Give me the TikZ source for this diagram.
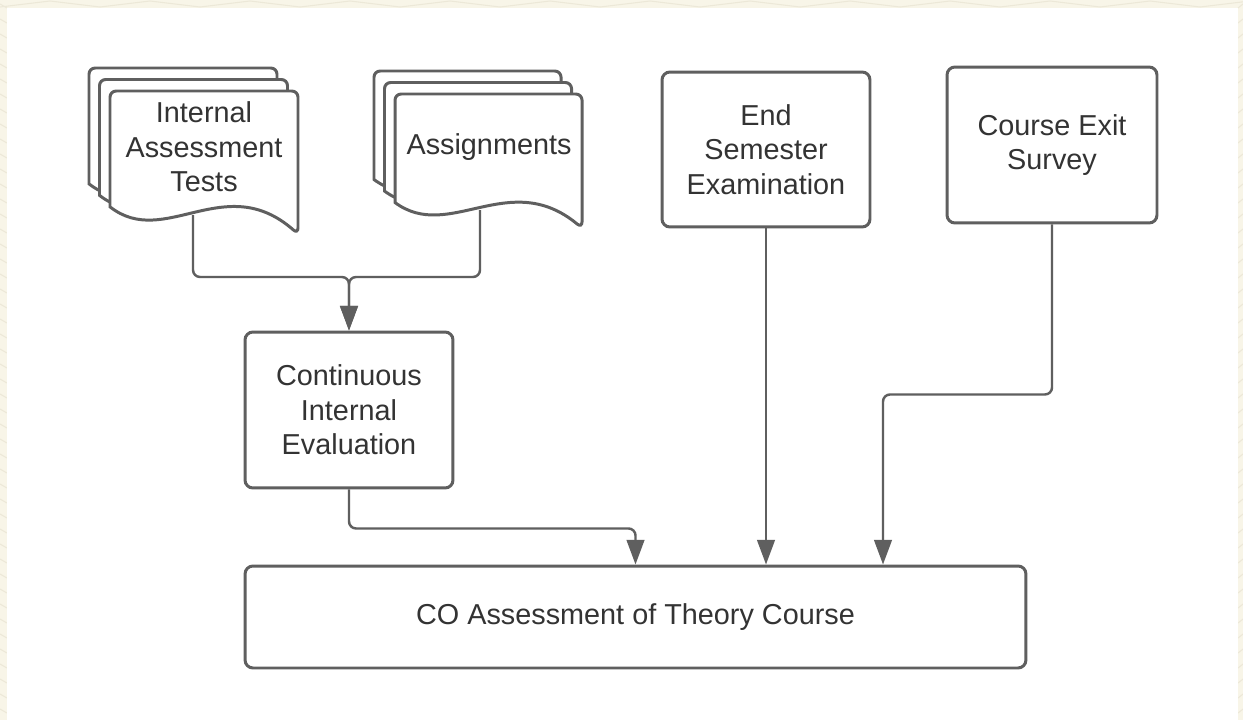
\documentclass[tikz,border=0pt]{standalone}
\usepackage{fontspec}
\setmainfont{Liberation Sans}
\usetikzlibrary{arrows.meta}

\definecolor{linegray}{HTML}{5F5F5F}
\definecolor{textgray}{HTML}{333333}
\definecolor{paper}{HTML}{F8F5E8}
\definecolor{paperline}{HTML}{ECE8D8}

% one sheet of a document stack: x, y, width, height (pixels, y down)
\newcommand{\docsheet}[4]{%
  \filldraw[sheet] ({#1},{#2+0.81*#4}) [rounded corners=3.5pt] -- ({#1},{#2})
    -- ({#1+#3},{#2}) -- ({#1+#3},{#2+#4}) [sharp corners]
    .. controls ({#1+0.61*#3},{#2+0.55*#4}) and ({#1+0.29*#3},{#2+1.11*#4})
    .. ({#1},{#2+0.81*#4}) -- cycle;}

% three sheets, front one at x, y
\newcommand{\docstack}[4]{%
  \docsheet{#1-21}{#2-23}{#3}{#4}
  \docsheet{#1-10.5}{#2-11.5}{#3}{#4}
  \docsheet{#1}{#2}{#3}{#4}}

\begin{document}
\begin{tikzpicture}[x=0.02cm, y=-0.02cm,
    sheet/.style={draw=linegray, fill=white, line width=1.7pt},
    box/.style={draw=linegray, fill=white, line width=1.7pt, rounded corners=4.5pt,
      align=center, text=textgray, inner sep=0pt},
    doctext/.style={align=center, text=textgray},
    link/.style={draw=linegray, line width=1.4pt, rounded corners=4pt,
      -{Triangle[length=14pt, width=10pt, sharp]}},
    font=\fontsize{16.4}{19.6}\selectfont]

  % page
  \useasboundingbox (0,0) rectangle (1243,720);
  \begin{scope}
    \clip (0,0) rectangle (1243,720);
    \fill[paper] (0,0) rectangle (1243,720);
    \foreach \i in {0,...,12}
      \draw[paperline, line width=0.6pt] (\i*100,7) -- (\i*100+50,1) -- (\i*100+100,7);
    \foreach \j in {0,...,47} {
      \draw[paperline, line width=0.6pt] (0,\j*15+4) -- (7,\j*15+8);
      \draw[paperline, line width=0.6pt] (1238,\j*15+8) -- (1243,\j*15+4);
    }
  \end{scope}
  \fill[white] (7,8) rectangle (1238,720);

  % boxes
  \node[box, minimum width=4.16cm, minimum height=3.12cm] (cie) at (349,410)
    {Continuous\\Internal\\Evaluation};
  \node[box, minimum width=4.16cm, minimum height=3.1cm] (ese) at (766,149.5)
    {End\\Semester\\Examination};
  \node[box, minimum width=4.2cm, minimum height=3.12cm] (ces) at (1052,145)
    {Course Exit\\Survey};
  \node[box, minimum width=15.62cm, minimum height=2.04cm] (co) at (635.5,617)
    {CO Assessment of Theory Course};

  % outlets under the sheets
  \coordinate (iat-out) at (193,215);
  \coordinate (asg-out) at (480,210);
  \coordinate (merge) at (349,277);
  \coordinate (ces-in) at (883,0);

  % connectors
  \draw[link] (iat-out) |- (merge) -- (cie.north);
  \draw[link] (asg-out) |- (merge) -- (cie.north);
  \draw[link] (cie.south) -- ++(0,39) -| (co.north);
  \draw[link] (ese.south) -- (ese.south |- co.north);
  \draw[link] (ces.south) -- ++(0,170) -| (ces-in |- co.north);

  % document stacks
  \docstack{110}{91}{188}{143}
  \docstack{395}{94}{187}{134}
  \node[doctext] (iat) at (204,147) {Internal\\Assessment\\Tests};
  \node[doctext] (asg) at (489,147) {Assignments};
\end{tikzpicture}
\end{document}
